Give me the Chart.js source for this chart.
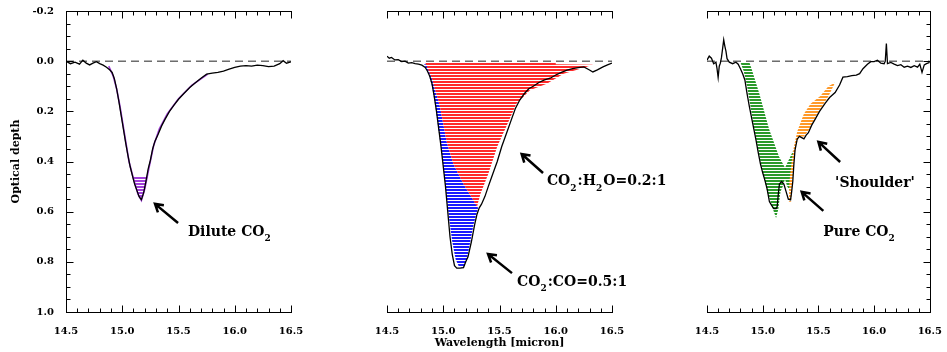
<!DOCTYPE html>
<html>
<head>
<meta charset="utf-8">
<script src="https://cdn.jsdelivr.net/npm/chart.js@4.4.1/dist/chart.umd.min.js"></script>
<style>
  body { margin: 0; background: #fff; }
  #wrap { position: relative; width: 947px; height: 352px; }
  canvas { position: absolute; top: 0; }
</style>
</head>
<body>
<div id="wrap">
  <canvas id="dilute" width="320" height="352" style="left:0"></canvas>
  <canvas id="mixed" width="380" height="352" style="left:320px"></canvas>
  <canvas id="pure" width="307" height="352" style="left:640px"></canvas>
</div>
<script>
// axes: wavelength [micron] and optical depth (drawn downwards)
const xTickLabels = ['14.5', '15.0', '15.5', '16.0', '16.5'];
const yTickLabels = ['-0.2', '0.0', '0.2', '0.4', '0.6', '0.8', '1.0'];
const xRange = [14.5, 16.5];
const yRange = [-0.2, 1.0];

// observed spectra, [wavelength, optical depth]
const diluteObs = [[14.50,0.000],[14.54,0.010],[14.58,0.004],[14.62,0.012],[14.65,-0.004],[14.68,0.008],
  [14.71,0.015],[14.74,0.008],[14.77,0.002],[14.80,0.010],[14.83,0.016],[14.86,0.024],[14.89,0.035],
  [14.91,0.045],[14.93,0.070],[14.95,0.110],[14.97,0.160],[14.99,0.215],[15.01,0.270],[15.03,0.325],
  [15.05,0.375],[15.07,0.420],[15.09,0.455],[15.11,0.490],[15.13,0.515],[15.15,0.540],[15.17,0.552],
  [15.19,0.525],[15.21,0.480],[15.23,0.430],[15.25,0.395],[15.27,0.350],[15.29,0.320],[15.32,0.290],
  [15.35,0.258],[15.38,0.232],[15.42,0.200],[15.46,0.175],[15.50,0.152],[15.55,0.128],[15.60,0.105],
  [15.65,0.086],[15.70,0.068],[15.75,0.052],[15.80,0.048],[15.85,0.045],[15.90,0.040],[15.95,0.032],
  [16.00,0.025],[16.05,0.020],[16.10,0.018],[16.15,0.020],[16.20,0.016],[16.25,0.018],[16.30,0.022],
  [16.35,0.020],[16.40,0.010],[16.43,-0.002],[16.46,0.008],[16.50,0.003]];

const mixedObs = [[14.50,-0.020],[14.52,-0.012],[14.54,-0.015],[14.57,-0.005],[14.60,-0.006],[14.63,0.002],
  [14.66,0.000],[14.69,0.008],[14.72,0.006],[14.75,0.010],[14.78,0.012],[14.81,0.016],[14.84,0.025],
  [14.86,0.040],[14.88,0.060],[14.90,0.090],[14.92,0.140],[14.94,0.200],[14.96,0.270],[14.98,0.340],
  [15.00,0.420],[15.02,0.500],[15.04,0.600],[15.06,0.700],[15.08,0.770],[15.10,0.815],[15.12,0.825],
  [15.15,0.825],[15.18,0.823],[15.20,0.800],[15.22,0.780],[15.25,0.720],[15.28,0.650],[15.30,0.610],
  [15.32,0.585],[15.34,0.570],[15.37,0.540],[15.40,0.500],[15.44,0.450],[15.48,0.400],[15.52,0.340],
  [15.56,0.290],[15.60,0.240],[15.64,0.190],[15.68,0.155],[15.72,0.130],[15.76,0.110],[15.80,0.100],
  [15.85,0.085],[15.90,0.075],[15.95,0.068],[16.00,0.055],[16.05,0.045],[16.10,0.036],[16.15,0.030],
  [16.20,0.026],[16.25,0.023],[16.30,0.035],[16.33,0.043],[16.37,0.035],[16.42,0.023],[16.46,0.015],
  [16.50,0.008]];

const pureObs = [[14.50,-0.004],[14.52,-0.020],[14.54,-0.012],[14.56,0.010],[14.58,0.004],[14.59,0.030],
  [14.60,0.065],[14.61,0.020],[14.62,0.008],[14.63,-0.015],[14.65,-0.085],[14.66,-0.060],[14.67,-0.040],
  [14.68,-0.010],[14.70,0.004],[14.73,0.010],[14.76,0.004],[14.78,0.012],[14.80,0.030],[14.82,0.050],
  [14.84,0.075],[14.86,0.130],[14.88,0.180],[14.90,0.225],[14.92,0.270],[14.94,0.315],[14.96,0.365],
  [14.98,0.410],[15.00,0.445],[15.02,0.475],[15.04,0.510],[15.06,0.560],[15.08,0.575],[15.10,0.588],
  [15.12,0.588],[15.13,0.580],[15.14,0.530],[15.15,0.490],[15.17,0.480],[15.19,0.490],[15.21,0.520],
  [15.23,0.550],[15.25,0.553],[15.26,0.520],[15.27,0.480],[15.28,0.410],[15.29,0.355],[15.31,0.310],
  [15.33,0.300],[15.35,0.305],[15.37,0.310],[15.39,0.295],[15.41,0.285],[15.44,0.255],[15.47,0.232],
  [15.51,0.200],[15.56,0.168],[15.60,0.145],[15.65,0.125],[15.69,0.095],[15.72,0.064],[15.76,0.062],
  [15.80,0.058],[15.84,0.056],[15.87,0.050],[15.90,0.030],[15.94,0.012],[15.97,0.002],[16.00,0.002],
  [16.03,-0.004],[16.06,0.008],[16.09,0.010],[16.10,0.000],[16.11,-0.070],[16.12,0.010],[16.15,0.005],
  [16.18,0.012],[16.21,0.018],[16.24,0.014],[16.27,0.024],[16.30,0.020],[16.33,0.025],[16.36,0.018],
  [16.39,0.024],[16.41,0.012],[16.43,0.045],[16.45,0.015],[16.47,0.010],[16.50,0.005]];

// laboratory fits (outlines of the hatched areas)
const diluteFit = [[14.88,0.020],[14.92,0.060],[14.95,0.110],[14.98,0.180],[15.02,0.290],[15.06,0.400],
  [15.10,0.470],[15.14,0.530],[15.17,0.555],[15.20,0.510],[15.24,0.420],[15.28,0.335],[15.33,0.270],
  [15.40,0.210],[15.50,0.150],[15.62,0.095],[15.76,0.052]];
const diluteTip = [[15.095,0.460],[15.14,0.530],[15.17,0.556],[15.20,0.510],[15.225,0.460]];

const coMix = [[14.83,0.012],[14.87,0.050],[14.90,0.100],[14.93,0.180],[14.96,0.280],[14.99,0.380],
  [15.02,0.500],[15.05,0.620],[15.08,0.720],[15.11,0.790],[15.14,0.820],[15.18,0.825],[15.21,0.790],
  [15.24,0.720],[15.27,0.650],[15.30,0.600],[15.31,0.585],[15.27,0.556],[15.18,0.490],[15.09,0.410],
  [15.03,0.320],[14.97,0.180],[14.90,0.070],[14.85,0.012]];
const waterMix = [[14.84,0.006],[16.00,0.006],[16.00,0.012],[16.33,0.014],[16.22,0.030],[16.07,0.050],
  [15.92,0.090],[15.77,0.116],[15.65,0.170],[15.57,0.250],[15.48,0.340],[15.40,0.450],[15.33,0.530],
  [15.30,0.580],[15.27,0.556],[15.18,0.490],[15.09,0.410],[15.03,0.320],[14.97,0.180],[14.90,0.070]];

const pureFit = [[14.80,0.004],[14.83,0.040],[14.86,0.100],[14.89,0.180],[14.92,0.260],[14.95,0.330],
  [14.98,0.400],[15.01,0.460],[15.04,0.520],[15.07,0.560],[15.10,0.600],[15.12,0.625],[15.14,0.590],
  [15.16,0.520],[15.18,0.500],[15.20,0.470],[15.22,0.500],[15.25,0.520],[15.27,0.460],[15.285,0.360],
  [15.27,0.360],[15.20,0.425],[15.146,0.380],[15.057,0.270],[14.97,0.130],[14.90,0.030],[14.88,0.004]];
const shoulderFit = [[15.65,0.085],[15.59,0.140],[15.49,0.210],[15.42,0.270],[15.37,0.300],[15.33,0.300],
  [15.30,0.330],[15.28,0.400],[15.265,0.480],[15.255,0.560],[15.235,0.560],[15.24,0.480],[15.26,0.400],
  [15.28,0.340],[15.31,0.280],[15.34,0.245],[15.37,0.210],[15.43,0.170],[15.515,0.140],[15.59,0.100]];

// arrows [head, tail] and labels in data units
const diluteArrows = [[[15.291,0.569],[15.496,0.645]]];
const diluteLabels = [{at: [15.584,0.681], parts: [['Dilute CO',0],['2',1]]}];
const mixedArrows = [[[15.697,0.370],[15.887,0.446]], [[15.398,0.769],[15.611,0.845]]];
const mixedLabels = [
  {at: [15.922,0.481], parts: [['CO',0],['2',1],[':H',0],['2',1],['O=0.2:1',0]]},
  {at: [15.656,0.880], parts: [['CO',0],['2',1],[':CO=0.5:1',0]]}];
const pureArrows = [[[15.50,0.322],[15.695,0.402]], [[15.35,0.521],[15.544,0.597]]];
const pureLabels = [
  {at: [15.65,0.486], parts: [["'Shoulder'",0]]},
  {at: [15.544,0.681], parts: [['Pure CO',0],['2',1]]}];

const pts = arr => arr.map(([x, y]) => ({x, y}));
const FONT = 'DejaVu Serif';

function hatch(ctx, color) {
  const c = document.createElement('canvas');
  c.width = 4; c.height = 3;
  const g = c.getContext('2d');
  g.fillStyle = color;
  g.fillRect(0, 0, 4, 2);
  return ctx.createPattern(c, 'repeat');
}

function curve(data) {
  return {data: pts(data), borderColor: '#000', borderWidth: 1.3, pointRadius: 0, fill: false};
}
function baseline() {
  return {data: pts([[xRange[0], 0], [xRange[1], 0]]), borderColor: '#222', borderWidth: 1,
    borderDash: [8, 5], pointRadius: 0, fill: false};
}
function shape(data, pattern) {
  return {data: pts(data), borderWidth: 0, pointRadius: 0, backgroundColor: pattern, fill: 'shape'};
}

// IDL style frame: inward ticks on top/bottom, optional left/right axes
function frame(left, right) {
  return {
    id: 'frame',
    afterDraw(chart) {
      const {ctx, chartArea: a} = chart;
      const xs = chart.scales.x, ys = chart.scales.y;
      ctx.save();
      ctx.strokeStyle = '#000';
      ctx.lineWidth = 1;
      ctx.beginPath();
      const seg = (x0, y0, x1, y1) => { ctx.moveTo(x0, y0); ctx.lineTo(x1, y1); };
      const top = Math.round(a.top) + 0.5, bot = Math.round(a.bottom) + 0.5;
      seg(a.left, top, a.right + 1, top);
      seg(a.left, bot, a.right + 1, bot);
      for (let i = 0; i <= 20; i++) {
        const px = Math.round(xs.getPixelForValue(xRange[0] + i * 0.1)) + 0.5;
        const len = i % 5 === 0 ? 7 : 4;
        seg(px, top, px, top + len);
        seg(px, bot, px, bot - len);
      }
      const sides = [];
      if (left) sides.push([a.left, 1]);
      if (right) sides.push([a.right, -1]);
      for (const [sx, dir] of sides) {
        const px = Math.round(sx) + 0.5;
        seg(px, top, px, bot);
        for (let i = 0; i <= 24; i++) {
          const py = Math.round(ys.getPixelForValue(yRange[0] + i * 0.05)) + 0.5;
          const len = i % 4 === 0 ? 7 : 4;
          seg(px, py, px + dir * len, py);
        }
      }
      ctx.stroke();
      ctx.restore();
    }
  };
}

function notes(arrows, labels) {
  return {
    id: 'notes',
    afterDraw(chart) {
      const {ctx} = chart;
      const xs = chart.scales.x, ys = chart.scales.y;
      const px = p => [xs.getPixelForValue(p[0]), ys.getPixelForValue(p[1])];
      ctx.save();
      ctx.strokeStyle = '#000';
      ctx.lineWidth = 2.5;
      for (const [head, tail] of arrows) {
        const [x1, y1] = px(head), [x0, y0] = px(tail);
        const ang = Math.atan2(y1 - y0, x1 - x0), h = 9;
        ctx.beginPath();
        ctx.moveTo(x0, y0); ctx.lineTo(x1, y1);
        ctx.moveTo(x1 - h * Math.cos(ang - 0.55), y1 - h * Math.sin(ang - 0.55));
        ctx.lineTo(x1, y1);
        ctx.lineTo(x1 - h * Math.cos(ang + 0.55), y1 - h * Math.sin(ang + 0.55));
        ctx.stroke();
      }
      ctx.fillStyle = '#000';
      ctx.textBaseline = 'middle';
      for (const lab of labels) {
        let [x, y] = px(lab.at);
        for (const [txt, sub] of lab.parts) {
          ctx.font = sub ? `bold 9px "${FONT}"` : `bold 14px "${FONT}"`;
          ctx.fillText(txt, x, sub ? y + 7 : y);
          x += ctx.measureText(txt).width + (sub ? 1 : 0);
        }
      }
      ctx.restore();
    }
  };
}

function panelOptions(withY, pad, xTitle) {
  return {
    responsive: false,
    animation: false,
    layout: {autoPadding: false, padding: {left: pad[0], right: pad[1], top: 11, bottom: 0}},
    plugins: {legend: {display: false}, tooltip: {enabled: false}},
    scales: {
      x: {
        type: 'linear', min: xRange[0], max: xRange[1],
        grid: {display: false}, border: {display: false},
        ticks: {stepSize: 0.5, maxRotation: 0, autoSkip: false, padding: 5, color: '#000',
          font: {family: FONT, weight: 'bold', size: 10},
          callback: v => xTickLabels[Math.round((v - xRange[0]) / 0.5)]},
        title: {display: !!xTitle, text: xTitle, color: '#000', padding: {top: 0, bottom: 2.4},
          font: {family: FONT, weight: 'bold', size: 11}},
        afterFit: s => { s.height = 40; }
      },
      y: {
        type: 'linear', reverse: true, min: yRange[0], max: yRange[1], display: withY,
        grid: {display: false}, border: {display: false},
        ticks: {stepSize: 0.2, padding: 4, color: '#000',
          font: {family: FONT, weight: 'bold', size: 10},
          callback: v => yTickLabels[Math.round((v - yRange[0]) / 0.2)]},
        title: {display: true, text: 'Optical depth', color: '#000', padding: {top: 10, bottom: 0},
          font: {family: FONT, weight: 'bold', size: 11}},
        afterFit: s => { s.width = withY ? 66 : 0; }
      }
    }
  };
}

const c1 = document.getElementById('dilute').getContext('2d');
new Chart(c1, {
  type: 'line',
  data: {datasets: [
    curve(diluteObs),
    baseline(),
    {data: pts(diluteFit), borderColor: '#a040d8', borderWidth: 1.6, pointRadius: 0, fill: false},
    shape(diluteTip, hatch(c1, '#a040d8'))
  ]},
  options: panelOptions(true, [0, 29], ''),
  plugins: [frame(true, false), notes(diluteArrows, diluteLabels)]
});

const c2 = document.getElementById('mixed').getContext('2d');
new Chart(c2, {
  type: 'line',
  data: {datasets: [
    curve(mixedObs),
    baseline(),
    shape(waterMix, hatch(c2, '#ff2a2a')),
    shape(coMix, hatch(c2, '#1a1aff'))
  ]},
  options: panelOptions(false, [67, 88], 'Wavelength [micron]'),
  plugins: [frame(false, false), notes(mixedArrows, mixedLabels)]
});

const c3 = document.getElementById('pure').getContext('2d');
new Chart(c3, {
  type: 'line',
  data: {datasets: [
    curve(pureObs),
    baseline(),
    shape(shoulderFit, hatch(c3, '#ff9a2a')),
    shape(pureFit, hatch(c3, '#2a9a2a'))
  ]},
  options: panelOptions(false, [67, 14], ''),
  plugins: [frame(false, true), notes(pureArrows, pureLabels)]
});
</script>
</body>
</html>
